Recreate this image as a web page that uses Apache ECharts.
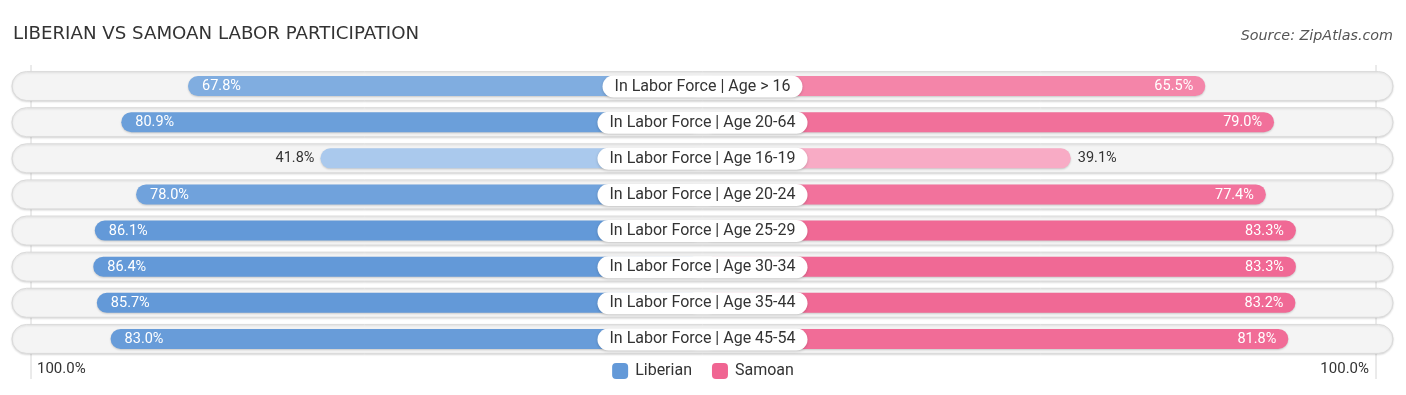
<!DOCTYPE html>
<html>
<head>
<meta charset="utf-8">
<script src="https://cdn.jsdelivr.net/npm/echarts@6/dist/echarts.min.js"></script>
<style>
html,body{margin:0;padding:0;background:#fff;}
#chart{width:1406px;height:395px;}
</style>
</head>
<body>
<div id="chart"></div>
<script>
const categories = [
  "In Labor Force | Age > 16",
  "In Labor Force | Age 20-64",
  "In Labor Force | Age 16-19",
  "In Labor Force | Age 20-24",
  "In Labor Force | Age 25-29",
  "In Labor Force | Age 30-34",
  "In Labor Force | Age 35-44",
  "In Labor Force | Age 45-54"
];
const liberian = [67.8, 80.9, 41.8, 78.0, 86.1, 86.4, 85.7, 83.0];
const samoan = [65.5, 79.0, 39.1, 77.4, 83.3, 83.3, 83.2, 81.8];
const tickLabels = ["100.0%", "100.0%"];
const seriesNames = ["Liberian", "Samoan"];

const BLUE = '#6399d8', BLUE_LIGHT = '#abcaed';
const PINK = '#f06592', PINK_LIGHT = '#f8abc5';
const AXIS_MIN = -33.2, AXIS_MAX = 100;
const BAR_H = 20, TRACK_H = 29;
const FONT = 'Roboto, "Open Sans", sans-serif';

function shade(v, light, full) {
  let t = (v - 41) / (86 - 41);
  t = Math.max(0, Math.min(1, t));
  return echarts.color.lerp(t, [light, full]);
}
function fmt(v) { return v.toFixed(1) + '%'; }

const chart = echarts.init(document.getElementById('chart'), null, {renderer: 'canvas'});

const gridTop = 68, gridH = 289;
const option = {
  animation: false,
  backgroundColor: '#fff',
  title: [
    {text: 'LIBERIAN VS SAMOAN LABOR PARTICIPATION', left: 8, top: 20,
     textStyle: {fontFamily: '"DejaVu Sans", sans-serif', fontSize: 18.2, fontWeight: 'normal', color: '#333'}},
    {text: 'Source: ZipAtlas.com', right: 8, top: 24,
     textStyle: {fontFamily: '"DejaVu Sans", sans-serif', fontSize: 14.3, fontStyle: 'italic', fontWeight: 'normal', color: '#555'}}
  ],
  legend: {
    data: [
      {name: seriesNames[0], itemStyle: {color: BLUE}},
      {name: seriesNames[1], itemStyle: {color: PINK}}
    ],
    left: 'center', top: 358, icon: 'roundRect', itemWidth: 16, itemHeight: 16, itemGap: 20,
    textStyle: {fontFamily: FONT, fontSize: 16, color: '#333', padding: [0, 0, 0, 2]}
  },
  graphic: [
    {type: 'line', shape: {x1: 31, y1: 65, x2: 31, y2: 379}, style: {stroke: '#d6d6d6', lineWidth: 1}, z: 0},
    {type: 'line', shape: {x1: 1376, y1: 65, x2: 1376, y2: 379}, style: {stroke: '#d6d6d6', lineWidth: 1}, z: 0},
    {type: 'text', left: 37, top: 362, style: {text: tickLabels[0], fontFamily: FONT, fontSize: 15, fill: '#333'}},
    {type: 'text', right: 37, top: 362, style: {text: tickLabels[1], fontFamily: FONT, fontSize: 15, fill: '#333'}}
  ],
  grid: [
    {left: 24, width: 678.5, top: gridTop, height: gridH},
    {left: 702.5, width: 678.5, top: gridTop, height: gridH}
  ],
  xAxis: [
    {type: 'value', gridIndex: 0, inverse: true, min: AXIS_MIN, max: AXIS_MAX, show: false},
    {type: 'value', gridIndex: 1, min: AXIS_MIN, max: AXIS_MAX, show: false}
  ],
  yAxis: [
    {type: 'category', gridIndex: 0, data: categories, inverse: true, show: false},
    {type: 'category', gridIndex: 1, data: categories, inverse: true, show: false}
  ],
  series: [
    {
      type: 'custom', name: 'track', xAxisIndex: 0, yAxisIndex: 0, z: 1, clip: false, silent: true,
      data: categories.map((c, i) => [0, i]),
      renderItem: function (params, api) {
        const i = api.value(1);
        const p = api.coord([0, i]);
        const cs = params.coordSys;
        const x0 = cs.x - 12;
        const w = cs.width * 2 + 24;
        return {
          type: 'rect',
          shape: {x: x0, y: p[1] - TRACK_H / 2, width: w, height: TRACK_H, r: TRACK_H / 2},
          style: {fill: '#f4f4f4', stroke: '#dadada', lineWidth: 1,
                  shadowBlur: 2, shadowColor: 'rgba(0,0,0,0.12)', shadowOffsetY: 1}
        };
      }
    },
    {
      type: 'custom', name: seriesNames[0], xAxisIndex: 0, yAxisIndex: 0, z: 2, clip: false,
      itemStyle: {color: BLUE},
      data: liberian.map((v, i) => [v, i]),
      renderItem: function (params, api) {
        const v = api.value(0), i = api.value(1);
        const e = api.coord([v, i]);
        const cs = params.coordSys;
        const center = cs.x + cs.width;
        const inside = v >= 50;
        return {
          type: 'group',
          children: [
            {type: 'rect',
             shape: {x: e[0], y: e[1] - BAR_H / 2, width: center - e[0], height: BAR_H, r: BAR_H / 2},
             style: {fill: shade(v, BLUE_LIGHT, BLUE), shadowBlur: 2, shadowColor: 'rgba(0,0,0,0.18)', shadowOffsetY: 1}},
            {type: 'text', z2: 10,
             style: {text: fmt(v), x: inside ? e[0] + 14 : e[0] - 6, y: e[1] + 0.5,
                      align: inside ? 'left' : 'right', verticalAlign: 'middle',
                      fontFamily: FONT, fontSize: 14.5, fill: inside ? '#fff' : '#333'}}
          ]
        };
      }
    },
    {
      type: 'custom', name: seriesNames[1], xAxisIndex: 1, yAxisIndex: 1, z: 2, clip: false,
      itemStyle: {color: PINK},
      data: samoan.map((v, i) => [v, i]),
      renderItem: function (params, api) {
        const v = api.value(0), i = api.value(1);
        const e = api.coord([v, i]);
        const cs = params.coordSys;
        const center = cs.x;
        const inside = v >= 50;
        return {
          type: 'group',
          children: [
            {type: 'rect',
             shape: {x: center, y: e[1] - BAR_H / 2, width: e[0] - center, height: BAR_H, r: BAR_H / 2},
             style: {fill: shade(v, PINK_LIGHT, PINK), shadowBlur: 2, shadowColor: 'rgba(0,0,0,0.18)', shadowOffsetY: 1}},
            {type: 'text', z2: 10,
             style: {text: fmt(v), x: inside ? e[0] - 12 : e[0] + 7, y: e[1] + 0.5,
                      align: inside ? 'right' : 'left', verticalAlign: 'middle',
                      fontFamily: FONT, fontSize: 14.5, fill: inside ? '#fff' : '#333'}}
          ]
        };
      }
    },
    {
      type: 'custom', name: 'labels', xAxisIndex: 1, yAxisIndex: 1, z: 3, clip: false, silent: true,
      data: categories.map((c, i) => [0, i]),
      renderItem: function (params, api) {
        const i = api.value(1);
        const p = api.coord([0, i]);
        const cs = params.coordSys;
        return {
          type: 'text',
          style: {text: categories[i], x: cs.x, y: p[1] + 0.5, align: 'center', verticalAlign: 'middle',
                  fontFamily: FONT, fontSize: 16, fill: '#333',
                  backgroundColor: '#fff', borderRadius: 11, padding: [3, 12, 3, 12],
                  shadowBlur: 3, shadowColor: 'rgba(0,0,0,0.18)', shadowOffsetY: 1}
        };
      }
    }
  ]
};
chart.setOption(option);
</script>
</body>
</html>
